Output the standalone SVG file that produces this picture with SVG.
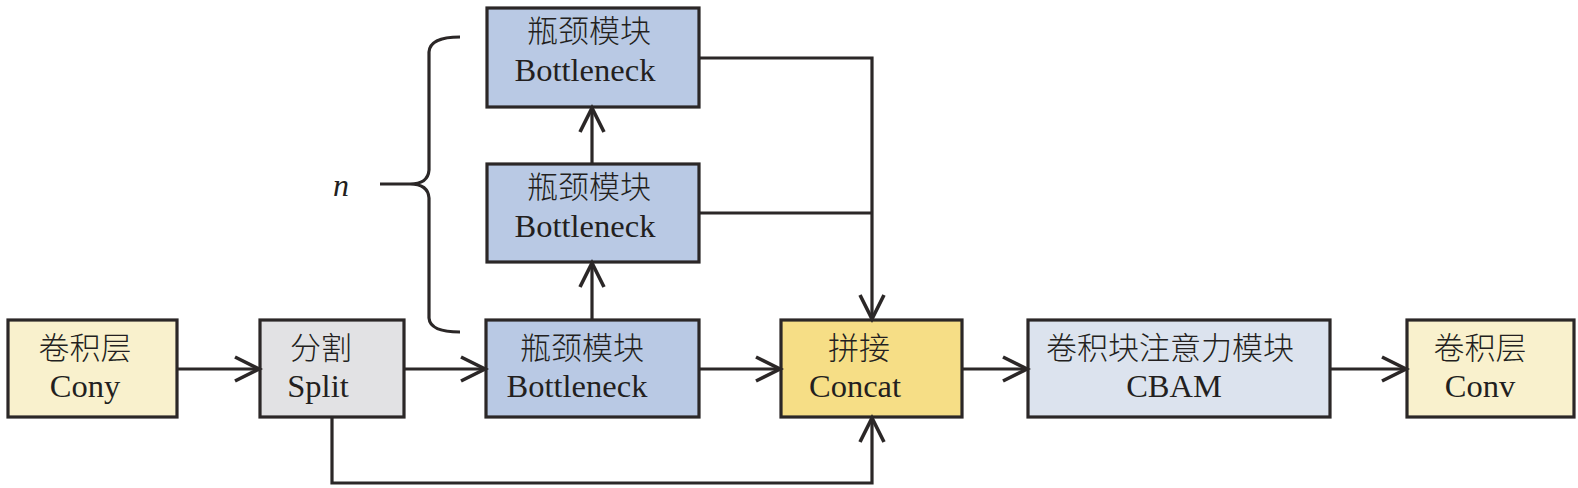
<svg xmlns="http://www.w3.org/2000/svg" width="1578" height="488" viewBox="0 0 1578 488">
<style>
.box{stroke:#2b2727;stroke-width:3.2}
.conv{fill:#f9f1cd}
.split{fill:#e2e2e4}
.bn{fill:#b9c9e4}
.cat{fill:#f6de86}
.cbam{fill:#dce3ee}
.zh{font-family:"Noto Sans CJK SC",sans-serif;font-size:31px;fill:#231f20;font-weight:300}
.en{font-family:"Liberation Serif",serif;font-size:32.5px;fill:#231f20}
.ln{fill:none;stroke:#2b2727;stroke-width:3.2}
</style>
<defs>
<marker id="ah" markerUnits="userSpaceOnUse" markerWidth="40" markerHeight="40" viewBox="-30 -20 40 40" refX="0" refY="0" orient="auto" overflow="visible">
<path d="M-25,-12 L-1,0 L-25,12" fill="none" stroke="#2b2727" stroke-width="3.6"/>
</marker>
</defs>
<rect width="1578" height="488" fill="#ffffff"/>
<g id="conv1">
<rect class="box conv" x="8" y="320" width="169" height="97"/>
<text class="zh" x="85" y="359" text-anchor="middle">卷积层</text>
<text class="en" x="85" y="397" text-anchor="middle">Cony</text>
</g>
<g id="split">
<rect class="box split" x="260" y="320" width="144" height="97"/>
<text class="zh" x="321" y="359" text-anchor="middle">分割</text>
<text class="en" x="318" y="397" text-anchor="middle">Split</text>
</g>
<g id="bottleneck1">
<rect class="box bn" x="486" y="320" width="213" height="97"/>
<text class="zh" x="582" y="359" text-anchor="middle">瓶颈模块</text>
<text class="en" x="577" y="397" text-anchor="middle">Bottleneck</text>
</g>
<g id="bottleneck2">
<rect class="box bn" x="487" y="164" width="212" height="98"/>
<text class="zh" x="589" y="198" text-anchor="middle">瓶颈模块</text>
<text class="en" x="585" y="237" text-anchor="middle">Bottleneck</text>
</g>
<g id="bottleneck3">
<rect class="box bn" x="487" y="8" width="212" height="99"/>
<text class="zh" x="589" y="42" text-anchor="middle">瓶颈模块</text>
<text class="en" x="585" y="81" text-anchor="middle">Bottleneck</text>
</g>
<g id="concat">
<rect class="box cat" x="781" y="320" width="181" height="97"/>
<text class="zh" x="859" y="359" text-anchor="middle">拼接</text>
<text class="en" x="855" y="397" text-anchor="middle">Concat</text>
</g>
<g id="cbam">
<rect class="box cbam" x="1028" y="320" width="302" height="97"/>
<text class="zh" x="1170" y="359" text-anchor="middle">卷积块注意力模块</text>
<text class="en" x="1174" y="397" text-anchor="middle">CBAM</text>
</g>
<g id="conv2">
<rect class="box conv" x="1407" y="320" width="167" height="97"/>
<text class="zh" x="1480" y="359" text-anchor="middle">卷积层</text>
<text class="en" x="1480" y="397" text-anchor="middle">Conv</text>
</g>
<g id="brace">
<path class="ln" d="M460,37 Q430,37 429,52 L429,170 Q428,184 410,184 L380,184 M410,184 Q428,184 429,198 L429,318 Q430,332 460,332"/>
<text x="341" y="196" text-anchor="middle" style="font-family:'Liberation Serif',serif;font-style:italic;font-size:32px;fill:#231f20">n</text>
</g>
<g id="connectors">
<line class="ln" x1="177" y1="369" x2="260" y2="369" marker-end="url(#ah)"/>
<line class="ln" x1="404" y1="369" x2="486" y2="369" marker-end="url(#ah)"/>
<line class="ln" x1="699" y1="369" x2="781" y2="369" marker-end="url(#ah)"/>
<line class="ln" x1="962" y1="369" x2="1028" y2="369" marker-end="url(#ah)"/>
<line class="ln" x1="1330" y1="369" x2="1407" y2="369" marker-end="url(#ah)"/>
<line class="ln" x1="592" y1="320" x2="592" y2="262" marker-end="url(#ah)"/>
<line class="ln" x1="592" y1="164" x2="592" y2="107" marker-end="url(#ah)"/>
<polyline class="ln" points="699,58 872,58 872,320" marker-end="url(#ah)"/>
<line class="ln" x1="699" y1="213" x2="872" y2="213"/>
<polyline class="ln" points="332,417 332,483 872,483 872,417" marker-end="url(#ah)"/>
</g>
</svg>
